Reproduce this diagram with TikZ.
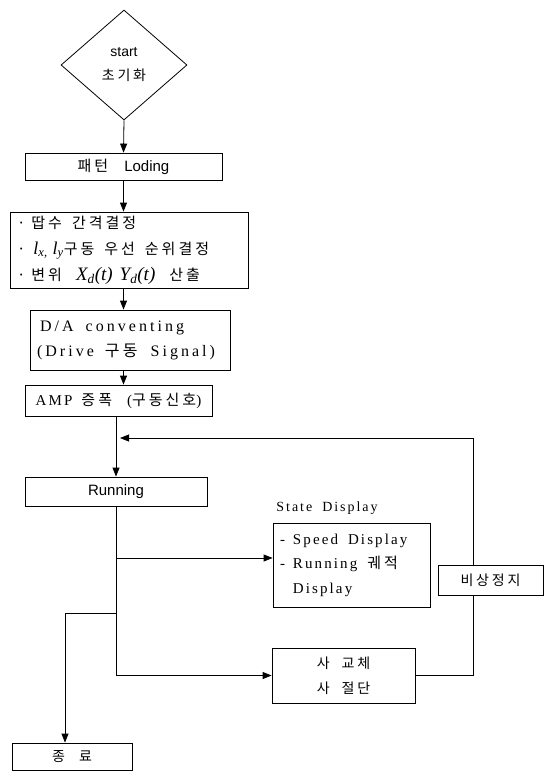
\documentclass[tikz,border=0pt]{standalone}
\usepackage{fontspec}
\setmainfont{Liberation Serif}[LetterSpace=14]
\newfontfamily\dafont[LetterSpace=19]{Liberation Serif}
\newfontfamily\kr[LetterSpace=20]{Noto Sans CJK KR}
\newfontfamily\arial{Liberation Sans}
\newfontfamily\tms{Liberation Serif}
\newcommand\wgap[1][10pt]{\hspace{#1}}
\usetikzlibrary{shapes.geometric,arrows.meta}
\begin{document}
\begin{tikzpicture}[x=1pt,y=-1pt,
  box/.style={draw,line width=0.8pt,inner sep=0pt},
  arr/.style={-{Triangle[length=9pt,width=7pt]},line width=0.8pt},
  ln/.style={line width=0.8pt}]
\useasboundingbox[fill=white] (0,0) rectangle (547,776);

% nodes
\node[box,diamond,minimum width=126pt,minimum height=110pt,align=center,
      font=\fontsize{14}{24}\selectfont] (start) at (124,65)
      {\arial start\\{\kr 초기화}};
\node[box,minimum width=197pt,minimum height=27pt,font=\fontsize{15}{20}\selectfont] (load) at (123.5,166.5)
      {{\kr 패턴}\wgap[16pt]{\arial Loding}};
\node[box,minimum width=238pt,minimum height=76pt,text width=224pt,align=left,
      font=\fontsize{15}{26}\selectfont] (calc) at (129,250)
      {{\kr ·\wgap[6pt]땁수\wgap 간격결정}\\
       {\kr ·}\wgap[8pt]{\tms\itshape\fontsize{18}{20}\selectfont l\textsubscript{x,}\hspace{5pt}l\textsubscript{y}}{\kr 구동\wgap 우선\wgap 순위결정}\\
       {\kr ·\wgap[6pt]변위}\wgap[14pt]{\tms\itshape\fontsize{19}{20}\selectfont X\textsubscript{d}(t)\hspace{7pt}Y\textsubscript{d}(t)}\wgap[14pt]{\kr 산출}};
\node[box,minimum width=200pt,minimum height=60pt,text width=192pt,align=left,
      font=\fontsize{16}{25}\selectfont] (da) at (130,340)
      {\dafont\hspace{6pt}D/A\wgap[12pt]conventing\\\hspace{3pt}(Drive\wgap[11pt]{\kr 구동}\wgap[13pt]Signal)};
\node[box,minimum width=187pt,minimum height=31pt,font=\fontsize{15}{20}\selectfont] (amp) at (118.5,400.5)
      {AMP\wgap[9pt]{\kr 증폭}\wgap[15pt]({\kr 구동신호})};
\node[box,minimum width=182pt,minimum height=29pt,font=\fontsize{15}{20}\selectfont] (run) at (116,491.5)
      {\arial Running};
\node[font=\fontsize{14}{20}\selectfont] (sdlabel) at (327,508) {State\wgap Display};
\node[box,minimum width=157pt,minimum height=84pt,text width=143pt,align=left,
      font=\fontsize{15}{24.5}\selectfont] (state) at (351.5,565)
      {-\wgap[8pt]Speed\wgap Display\\-\wgap[8pt]Running\wgap{\kr 궤적}\\\phantom{-}\wgap[8pt]Display};
\node[box,fill=white,minimum width=105pt,minimum height=30pt,font=\fontsize{14}{20}\selectfont] (emg) at (490.5,580)
      {\kr 비상정지};
\node[box,minimum width=143pt,minimum height=55pt,align=center,
      font=\fontsize{14}{25}\selectfont] (cut) at (343.5,675.5)
      {{\kr 사\wgap[12pt]교체}\\{\kr 사\wgap[12pt]절단}};
\node[box,minimum width=120pt,minimum height=27pt,font=\fontsize{14}{20}\selectfont] (fin) at (72,756.5)
      {\kr 종\hspace{14pt}료};

% helper coordinates
\coordinate (fbtop) at (473,438);
\coordinate (fbend) at (120,438);
\coordinate (sdin) at ([yshift=7pt]state.west);
\path (run.south) ++(0,107) coordinate (brk);
\coordinate (finin) at ([xshift=-7pt]fin.north);

% connectors
\draw[arr] (start.south) -- (load.north);
\draw[arr] (load.south) -- (load.south |- calc.north);
\draw[arr] (load.south |- calc.south) -- (load.south |- da.north);
\draw[arr] (load.south |- da.south) -- (load.south |- amp.north);
\draw[arr] (run.north |- amp.south) -- (run.north);
\draw[arr] (run.south) |- (cut.west);
\draw[arr] (run.south |- sdin) -- (sdin);
\draw[arr] (brk) -| (finin);
\draw[ln] (cut.east) -| (fbtop |- emg.south);
\draw[arr] (fbtop |- emg.north) -- (fbtop) -- (fbend);
\end{tikzpicture}
\end{document}
